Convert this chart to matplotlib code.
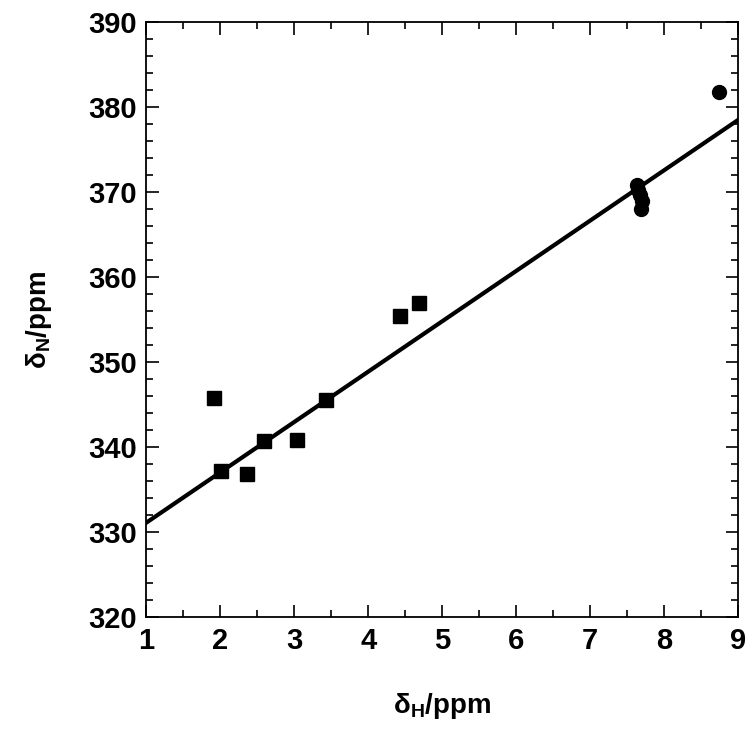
import numpy as np
import matplotlib.pyplot as plt

# squares
x_sq = [1.91, 2.01, 2.36, 2.59, 3.04, 3.43, 4.43, 4.69]
y_sq = [345.8, 337.2, 336.8, 340.7, 340.8, 345.6, 355.4, 357.0]
# circles
x_ci = [7.63, 7.65, 7.68, 7.70, 7.69, 8.74]
y_ci = [370.8, 370.3, 369.6, 369.0, 368.0, 381.8]
# fitted line  y = a + b*x
fit_a = 325.2
fit_b = 5.92

plt.rcParams['font.family'] = ['Liberation Sans', 'DejaVu Sans']
plt.rcParams['mathtext.fontset'] = 'custom'
plt.rcParams['mathtext.rm'] = 'Liberation Sans'

fig = plt.figure(figsize=(7.5, 7.34), dpi=100)
ax = fig.add_axes([0.195, 0.159, 0.789, 0.811])

xl = np.array([1, 9])
ax.plot(xl, fit_a + fit_b * xl, color='black', lw=3)
ax.plot(x_sq, y_sq, 's', color='black', ms=10.5)
ax.plot(x_ci, y_ci, 'o', color='black', ms=10)

ax.set_xlim(1, 9)
ax.set_ylim(320, 390)
ax.set_xticks(np.arange(1, 10, 1))
ax.set_xticks(np.arange(1, 9, 0.5), minor=True)
ax.set_yticks(np.arange(320, 391, 10))
ax.set_yticks(np.arange(320, 390, 2), minor=True)
ax.tick_params(which='both', direction='in', top=True, right=True, width=1.2)
ax.tick_params(which='major', length=9, labelsize=21, pad=7)
ax.tick_params(which='minor', length=5)
for lab in ax.get_xticklabels() + ax.get_yticklabels():
    lab.set_fontweight('bold')
for s in ax.spines.values():
    s.set_linewidth(1.3)

ax.set_xlabel(r'$\mathregular{\delta_H}$/ppm', fontsize=20, fontweight='bold', labelpad=26)
ax.set_ylabel(r'$\mathregular{\delta_N}$/ppm', fontsize=20, fontweight='bold', labelpad=24)

plt.savefig('out.png', dpi=100)
